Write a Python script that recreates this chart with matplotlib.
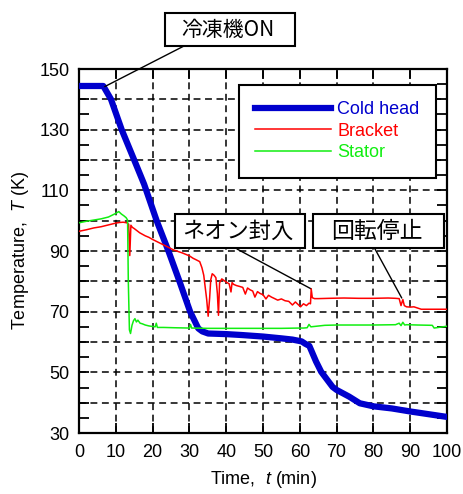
import matplotlib
matplotlib.use('Agg')
from matplotlib import pyplot as plt
from matplotlib.patches import Rectangle
from matplotlib.ticker import MultipleLocator

plt.rcParams['font.family'] = ['Liberation Sans', 'Noto Sans CJK JP']
plt.rcParams['mathtext.fontset'] = 'custom'
plt.rcParams['mathtext.rm'] = 'Liberation Sans'
plt.rcParams['mathtext.it'] = 'Liberation Sans:italic'

# cold head
blue_t = [0, 6.6, 8.7, 11.6, 15, 17.7, 21.1, 24.3, 27.3, 30.2, 32.4, 33.5, 35.1, 40, 44.2, 50,
          55, 58, 60.5, 61.5, 62.6, 64.4, 65.8, 68.9, 70, 73.4, 76.3, 80, 85, 90, 95, 100]
blue_T = [144.4, 144.4, 140, 130, 120, 112, 100, 90, 80, 70, 64.5, 63.5, 62.8, 62.6, 62.3, 61.8,
          61.2, 60.8, 60.2, 59.4, 58.7, 53.6, 50.2, 45.2, 44.2, 42, 39.8, 38.8, 38.1, 37.1, 36.2, 35.3]

# bracket
red_t = [0, 2, 4, 6, 8, 10, 11, 12, 13, 13.5, 13.8, 14.1, 14.5, 15, 16.5, 18, 19, 20, 21, 22,
         23, 24, 25.6, 27, 28, 29, 30, 31, 32, 32.8, 33.4, 33.9, 34.3, 34.7, 35.1, 35.5, 35.8, 36.2,
         36.7, 37.2, 37.6, 37.9, 38.2, 38.8, 39.5, 40.2, 40.8, 41.3, 41.6, 42, 42.8, 43.7, 44.5,
         45.2, 45.8, 46.5, 47.2, 47.8, 48.5, 49.2, 50, 50.8, 51.5, 52.3, 53, 54, 55, 56, 57, 58,
         58.8, 59.5, 60.2, 61, 61.8, 62.5, 62.9, 63.1, 63.4, 64, 65, 68, 72, 76, 80, 84, 86, 87,
         87.5, 88, 88.4, 89, 90, 91, 92.5, 93, 96, 100]
red_T = [96.5, 97.0, 97.6, 98.0, 98.6, 99.2, 99.4, 99.5, 99.3, 98.8, 88.5, 98.5, 97.8, 97.4,
         96.0, 95.0, 94.5, 93.8, 93.2, 92.6, 92.0, 91.4, 90.4, 89.8, 89.4, 88.9, 88.4, 87.6, 87.0,
         86.5, 84.5, 82.0, 78.0, 74.0, 68.5, 74.5, 80.5, 82.5, 82.0, 81.2, 76.0, 68.8, 79.5, 80.8,
         80.2, 79.6, 79.2, 76.5, 79.6, 79.0, 78.6, 78.3, 78.0, 75.8, 77.8, 77.2, 76.8, 74.8, 76.6,
         76.0, 75.6, 74.2, 75.4, 74.8, 74.4, 73.8, 74.2, 73.6, 73.4, 72.2, 73.2, 72.4, 71.6, 72.6,
         72.0, 72.8, 72.6, 77.5, 74.6, 74.3, 74.3, 74.4, 74.5, 74.4, 74.4, 74.5, 74.4, 74.3, 72.0,
         74.0, 72.0, 71.6, 71.5, 71.6, 71.0, 70.8, 70.8, 70.8]

# stator
green_t = [0, 2, 4, 6, 8, 9, 10, 10.8, 11.5, 12.2, 12.8, 13.2, 13.4, 13.7, 14.0, 14.4, 14.8,
           15.2, 15.6, 16.0, 16.6, 17.2, 18, 19, 20.7, 21.0, 21.3, 23, 26, 30, 30.3, 30.6, 35, 40,
           45, 50, 55, 60, 61, 62, 62.5, 63, 66.8, 70, 75, 80, 86, 87, 87.5, 88, 88.5, 89, 92, 96,
           96.5, 100]
green_T = [99.3, 99.8, 100.2, 100.6, 101.2, 101.8, 102.4, 103.0, 102.2, 101.6, 101.0, 100.2, 80.0,
           64.0, 62.8, 65.5, 67.0, 67.7, 66.6, 67.2, 66.2, 66.0, 65.6, 65.3, 65.0, 66.2, 64.8, 64.8,
           64.7, 64.6, 65.8, 64.6, 64.5, 64.5, 64.5, 64.5, 64.5, 64.6, 64.6, 64.7, 65.8, 65.0, 65.5,
           65.6, 65.6, 65.6, 65.7, 66.2, 65.4, 66.5, 65.6, 65.7, 65.6, 65.5, 64.6, 65.2]

W, H = 463, 494
fig = plt.figure(figsize=(W / 100, H / 100), dpi=100)
ax = fig.add_axes([79 / W, 1 - 433 / H, (447 - 79) / W, (433 - 69) / H])

for x in range(10, 100, 10):
    ax.axvline(x, color='black', lw=1.1, ls=(0, (4.5, 3)), zorder=1)
for y in range(40, 150, 10):
    ax.axhline(y, color='black', lw=1.1, ls=(0, (4.5, 3)), zorder=1)

ax.plot(blue_t, blue_T, color='#0000CD', lw=4.5, label='Cold head', zorder=3)
ax.plot(red_t, red_T, color='#FF0000', lw=1.1, label='Bracket', zorder=4)
ax.plot(green_t, green_T, color='#11EE11', lw=1.1, label='Stator', zorder=5)

ax.set_xlim(0, 100)
ax.set_ylim(30, 150)
ax.xaxis.set_major_locator(MultipleLocator(10))
ax.set_yticks(range(30, 151, 20))
ax.yaxis.set_minor_locator(MultipleLocator(5))
ax.tick_params(which='both', direction='in', top=True, right=True, labelsize=13,
               width=1.3, length=7)
ax.tick_params(axis='x', pad=8)
ax.tick_params(axis='y', pad=7)
for s in ax.spines.values():
    s.set_linewidth(1.6)

ax.set_xlabel('Time,  $t$ (min)', fontsize=13, labelpad=6)
ax.set_ylabel('Temperature,  $T$ (K)', fontsize=13, labelpad=6)

leg = ax.legend(loc='upper left', bbox_to_anchor=(239 / W, 1 - 85 / H),
                bbox_transform=fig.transFigure, fontsize=13, frameon=True, fancybox=False,
                edgecolor='black', framealpha=1, borderaxespad=0, borderpad=0.9,
                handlelength=4.2, handletextpad=0.35, labelspacing=0.25,
                labelcolor='linecolor')
leg.get_frame().set_linewidth(1.5)
leg.set_zorder(10)

# callout boxes: text, font size, box in pixels, leader start in pixels, data end
callouts = [
    ('冷凍機ON', 15, (165, 13, 295, 46), (184, 46), (7, 144.2)),
    ('ネオン封入', 16, (175, 214, 305, 248), (237, 249), (63.1, 77.5)),
    ('回転停止', 16.5, (313, 214, 444, 248), (375, 249), (87.7, 74.5)),
]
for txt, fs, (x0, y0, x1, y1), (lx, ly), end in callouts:
    ax.annotate('', xy=end, xycoords='data', xytext=(lx / W, 1 - ly / H),
                textcoords='figure fraction', annotation_clip=False,
                arrowprops=dict(arrowstyle='-', color='black', lw=1, shrinkA=0, shrinkB=0))
    fig.add_artist(Rectangle((x0 / W, 1 - y1 / H), (x1 - x0) / W, (y1 - y0) / H,
                             transform=fig.transFigure, facecolor='white',
                             edgecolor='black', lw=1.5, zorder=20))
    fig.text((x0 + x1) / 2 / W - 2 / W, 1 - (y0 + y1) / 2 / H, txt, fontsize=fs,
             family=['Noto Sans CJK JP'], ha='center', va='center', zorder=21)

fig.savefig('out.png', dpi=100)
